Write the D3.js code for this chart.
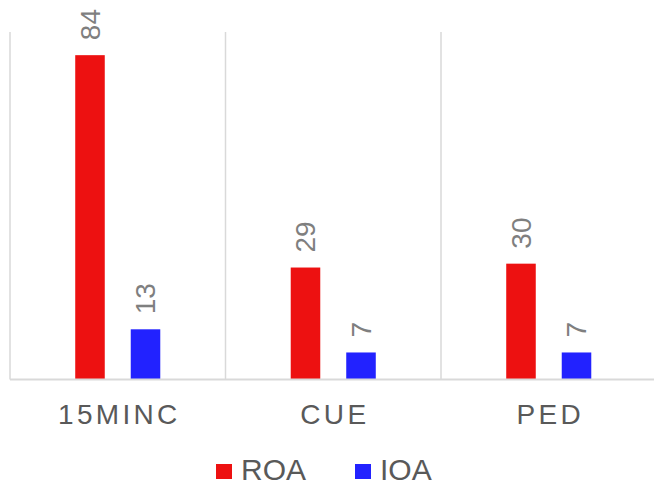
<!DOCTYPE html>
<html><head><meta charset="utf-8">
<script src="https://cdn.jsdelivr.net/npm/d3@7"></script>
<style>
html,body{margin:0;padding:0;background:#fff;}
svg{display:block;font-family:"Liberation Sans",Arial,sans-serif;}
</style></head>
<body>
<svg id="chart" width="654" height="485"></svg>
<script>
const categories = ["15MINC", "CUE", "PED"];
const seriesNames = ["ROA", "IOA"];
const roaValues = [84, 29, 30];
const ioaValues = [13, 7, 7];
const seriesColors = ["#ED1111", "#2222FF"];

const svg = d3.select("#chart");
const W = 654, H = 485;
const left = 10, bandW = 215.5;
const yBase = 379.5, yTop = 32;

const x = d3.scaleBand().domain(categories).range([left, left + bandW * categories.length]).padding(0);
const xs = d3.scaleBand().domain(seriesNames).range([0, bandW]).paddingInner(0.468).paddingOuter(1.175);
const y = d3.scaleLinear().domain([0, 90]).range([yBase, yTop]);

const data = categories.map((c, i) => ({cat: c, vals: [roaValues[i], ioaValues[i]]}));

// vertical gridlines (category separators)
const gridX = categories.map(c => x(c)).concat([x(categories[categories.length-1]) + x.bandwidth()]);
svg.append("g").selectAll("line").data(gridX).join("line")
  .attr("x1", d => d).attr("x2", d => d)
  .attr("y1", y(90)).attr("y2", yBase)
  .attr("stroke", "#d9d9d9").attr("stroke-width", 1.5);

// bars
const groups = svg.append("g").selectAll("g").data(data).join("g")
  .attr("transform", d => `translate(${x(d.cat)},0)`);
groups.selectAll("rect").data(d => d.vals.map((v, j) => ({s: seriesNames[j], v, j})))
  .join("rect")
  .attr("x", d => xs(d.s)).attr("width", xs.bandwidth())
  .attr("y", d => y(d.v)).attr("height", d => yBase - y(d.v))
  .attr("fill", d => seriesColors[d.j]);

// data labels
groups.selectAll("text").data(d => d.vals.map((v, j) => ({s: seriesNames[j], v, j})))
  .join("text")
  .attr("transform", d => `translate(${xs(d.s) + xs.bandwidth()/2},${y(d.v) - 15}) rotate(-90)`)
  .attr("dy", "0.35em")
  .attr("text-anchor", "start")
  .attr("font-size", 28).attr("fill", "#7f7f7f")
  .text(d => d.v);

// baseline
svg.append("line").attr("x1", left).attr("x2", W).attr("y1", yBase).attr("y2", yBase)
  .attr("stroke", "#d9d9d9").attr("stroke-width", 2);

// category axis labels
const xAxis = d3.axisBottom(x).tickSize(0).tickPadding(0);
const ax = svg.append("g").attr("transform", `translate(0,${yBase})`).call(xAxis);
ax.select(".domain").remove();
ax.selectAll("text")
  .attr("y", 44.5).attr("dy", 0)
  .attr("font-size", 28).attr("fill", "#595959")
  .attr("font-family", "Liberation Sans, Arial, sans-serif")
  .style("letter-spacing", "3.3px")
  .attr("dx", 1.6);

// legend
const legendX = [216, 355];
const lg = svg.append("g").selectAll("g").data(seriesNames).join("g")
  .attr("transform", (d, i) => `translate(${legendX[i]},464)`);
lg.append("rect").attr("width", 16).attr("height", 15).attr("fill", (d, i) => seriesColors[i]);
lg.append("text").attr("x", 25).attr("y", 16).attr("font-size", 30).attr("fill", "#595959").text(d => d);
</script>
</body></html>
